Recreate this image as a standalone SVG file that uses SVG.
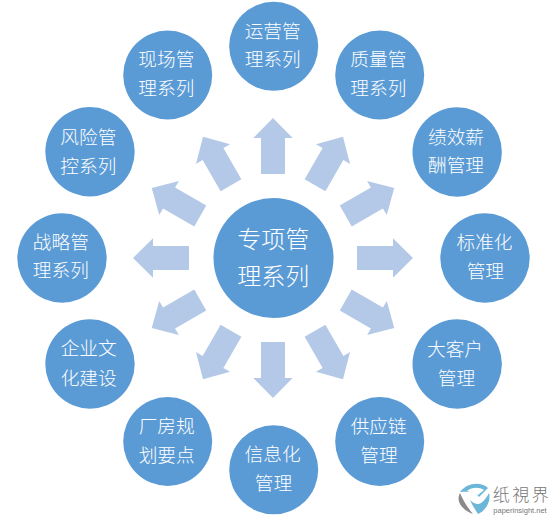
<svg xmlns="http://www.w3.org/2000/svg" width="557" height="517" viewBox="0 0 557 517">
<style>
.n{fill:#5b9bd5}
.a{fill:#b4c9e7}
text{font-family:"Noto Sans CJK SC","Noto Sans",sans-serif;font-weight:300;fill:#fff;text-anchor:middle;font-size:18.670px}
.c{font-size:24px}
</style>
<defs>
<path id="arr" d="M-12-84V-120H-19.700L0-140L19.700-120H12V-84Z"/>
</defs>
<rect width="557" height="517" fill="#fff"/>
<g id="connectors" class="a" transform="translate(273 258)">
<use href="#arr"/>
<use href="#arr" transform="rotate(30)"/>
<use href="#arr" transform="rotate(60)"/>
<use href="#arr" transform="rotate(90)"/>
<use href="#arr" transform="rotate(120)"/>
<use href="#arr" transform="rotate(150)"/>
<use href="#arr" transform="rotate(180)"/>
<use href="#arr" transform="rotate(210)"/>
<use href="#arr" transform="rotate(240)"/>
<use href="#arr" transform="rotate(270)"/>
<use href="#arr" transform="rotate(300)"/>
<use href="#arr" transform="rotate(330)"/>
</g>
<g id="center"><circle class="n" cx="273.500" cy="258" r="60"/><text class="c" x="273.300" y="248">专项管</text><text class="c" x="273.300" y="284.500">理系列</text></g>
<g id="n1"><circle class="n" cx="273.700" cy="46.300" r="44.500"/><text x="272.700" y="38">运营管</text><text x="272.700" y="66">理系列</text></g>
<g id="n2"><circle class="n" cx="379.700" cy="75" r="44.500"/><text x="378.300" y="66">质量管</text><text x="378.300" y="94.500">理系列</text></g>
<g id="n3"><circle class="n" cx="457.200" cy="152" r="44.700"/><text x="456" y="143.500">绩效薪</text><text x="456" y="172">酬管理</text></g>
<g id="n4"><circle class="n" cx="485" cy="258" r="44.700"/><text x="484.500" y="249">标准化</text><text x="485.300" y="278">管理</text></g>
<g id="n5"><circle class="n" cx="457.200" cy="364" r="44.700"/><text x="455" y="356">大客户</text><text x="456.500" y="384.500">管理</text></g>
<g id="n6"><circle class="n" cx="379.700" cy="441.500" r="44.500"/><text x="378.700" y="433">供应链</text><text x="379" y="462">管理</text></g>
<g id="n7"><circle class="n" cx="273.700" cy="469.800" r="44.500"/><text x="272.700" y="461">信息化</text><text x="273.500" y="490">管理</text></g>
<g id="n8"><circle class="n" cx="167.700" cy="441.500" r="44.500"/><text x="166.700" y="433">厂房规</text><text x="166.700" y="461.500">划要点</text></g>
<g id="n9"><circle class="n" cx="90" cy="364" r="44.700"/><text x="88.700" y="355">企业文</text><text x="88.700" y="384.500">化建设</text></g>
<g id="n10"><circle class="n" cx="62" cy="258" r="44.700"/><text x="60.800" y="249">战略管</text><text x="60.800" y="277">理系列</text></g>
<g id="n11"><circle class="n" cx="90" cy="151.800" r="44.700"/><text x="88.300" y="144">风险管</text><text x="88.300" y="172.500">控系列</text></g>
<g id="n12"><circle class="n" cx="167.700" cy="75" r="44.500"/><text x="166.300" y="66">现场管</text><text x="166.300" y="94.500">理系列</text></g>
<g id="watermark">
<path d="M460 492C467 483 480 481 488 488C485 491 482 494 479 497C476 492 470 491 460 492Z" fill="#6cb6d8"/>
<path d="M467 491C472 487 479 487 484 490L478 495Z" fill="#fff"/>
<path d="M460 493C456 500 460 509 473 514C467 507 463 500 460 493Z" fill="#8a8a8a"/>
<path d="M470 500C474 504 478 505 481 503C484 501 487 497 489 493C491 500 487 510 478 514C475 509 472 505 470 500Z" fill="#6cb6d8"/>
<text x="522" y="500.500" style="font-size:17px;letter-spacing:2.500px;fill:#777">纸視界</text>
<text x="520" y="512.500" style="font-family:'Liberation Sans',sans-serif;font-weight:400;font-size:7.500px;fill:#777">paperinsight.net</text>
</g>
</svg>
